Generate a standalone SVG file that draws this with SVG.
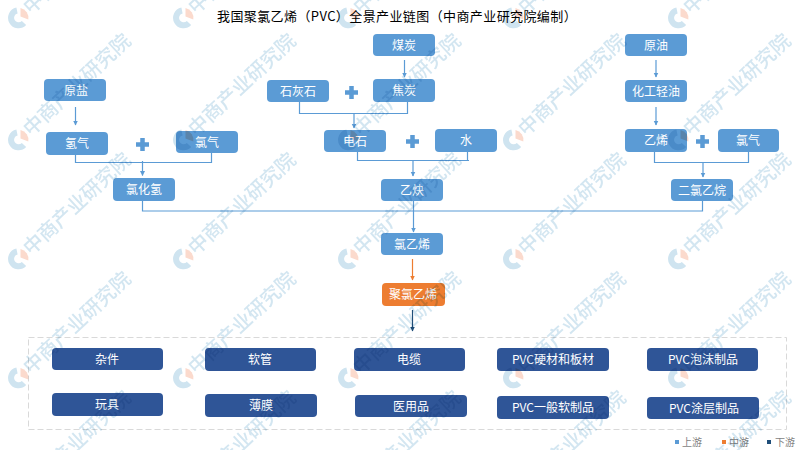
<svg xmlns="http://www.w3.org/2000/svg" width="800" height="450" viewBox="0 0 800 450">
<style>
text{font-family:"Noto Sans CJK SC","Noto Sans",sans-serif}
.t{font-size:12px;fill:#fff;text-anchor:middle}
.a{fill:#5b9bd5}.o{fill:#ed7d31}.d{fill:#2f5597}
.c{fill:none;stroke:#5b9bd5;stroke-width:1.2}
.co{fill:none;stroke:#ed7d31;stroke-width:1.2}
.cd{fill:none;stroke:#1f4e79;stroke-width:1.2}
.p{fill:none;stroke:#5b9bd5;stroke-width:4.5}
.l{font-size:10px;fill:#7f7f7f}
.wt{font-size:19.8px;font-weight:500;fill:#d3e6f1}
</style>
<defs>
<marker id="ma" markerWidth="6" markerHeight="6" refX="4.5" refY="2.5" orient="auto" markerUnits="userSpaceOnUse"><path d="M0,0L5,2.5L0,5z" fill="#5b9bd5"/></marker>
<marker id="mo" markerWidth="6" markerHeight="6" refX="4.5" refY="2.5" orient="auto" markerUnits="userSpaceOnUse"><path d="M0,0L5,2.5L0,5z" fill="#ed7d31"/></marker>
<marker id="md" markerWidth="6" markerHeight="6" refX="4.5" refY="2.5" orient="auto" markerUnits="userSpaceOnUse"><path d="M0,0L5,2.5L0,5z" fill="#1f4e79"/></marker>
<g id="wm">
<path d="M-1,-7.5A7.5,7.5 0 1 0 6,5" fill="none" stroke="#cfe4f0" stroke-width="6"/>
<path d="M2.5,-10A10,10 0 0 1 10.3,1.5L2.5,-1.5z" fill="#fbdacd"/>
<text class="wt" transform="translate(13,-3) rotate(-43)">中商产业研究院</text>
</g>
</defs>
<rect width="800" height="450" fill="#fff"/>
<text x="217" y="21" font-size="13" letter-spacing="0.4" fill="#000">我国聚氯乙烯（PVC）全景产业链图（中商产业研究院编制）</text>
<rect x="28.5" y="337.5" width="758" height="92" fill="none" stroke="#d9d9d9" stroke-dasharray="6 3"/>
<g id="connectors">
<path class="c" marker-end="url(#ma)" d="M75.5,107V125"/>
<path class="c" d="M75.5,155V162.5H211.5V153"/>
<path class="c" marker-end="url(#ma)" d="M142.5,161V175.5"/>
<path class="c" d="M142.5,201V211H702.5V201"/>
<path class="c" marker-end="url(#ma)" d="M404.5,60V77"/>
<path class="c" d="M299.5,102V113.5H407.5V102"/>
<path class="c" marker-end="url(#ma)" d="M354,113.5V128"/>
<path class="c" d="M357.5,152V160.5H469M467.5,160.5V152"/>
<path class="c" marker-end="url(#ma)" d="M413,160.5V176"/>
<path class="c" marker-end="url(#ma)" d="M413.5,201V232"/>
<path class="co" marker-end="url(#mo)" d="M412.5,259V280"/>
<path class="cd" marker-end="url(#md)" d="M412.5,310V331"/>
<path class="c" marker-end="url(#ma)" d="M656,60V77"/>
<path class="c" marker-end="url(#ma)" d="M656,107V125"/>
<path class="c" d="M654.5,152V162.5H748.5V152"/>
<path class="c" marker-end="url(#ma)" d="M703,162V177"/>
<path class="p" d="M136,144.5H149M142.5,138V151"/>
<path class="p" d="M345,92.5H358M351.5,86V99"/>
<path class="p" d="M406,141.5H419M412.5,135V148"/>
<path class="p" d="M696,141.5H709M702.5,135V148"/>
</g>
<g id="n-yuanyan"><rect class="a" x="44" y="79" width="62" height="22" rx="4"/><text class="t" x="76" y="94.5">原盐</text></g>
<g id="n-qingqi"><rect class="a" x="46" y="132" width="62" height="23" rx="4"/><text class="t" x="77" y="148">氢气</text></g>
<g id="n-lvqi1"><rect class="a" x="176" y="131" width="62" height="22" rx="4"/><text class="t" x="207" y="146.5">氯气</text></g>
<g id="n-lvhuaqing"><rect class="a" x="113" y="178" width="62" height="23" rx="4"/><text class="t" x="144" y="194">氯化氢</text></g>
<g id="n-meitan"><rect class="a" x="373" y="34" width="62" height="22" rx="4"/><text class="t" x="404" y="49.5">煤炭</text></g>
<g id="n-jiaotan"><rect class="a" x="373" y="79" width="62" height="23" rx="4"/><text class="t" x="404" y="95">焦炭</text></g>
<g id="n-shihuishi"><rect class="a" x="267" y="80" width="62" height="22" rx="4"/><text class="t" x="298" y="95.5">石灰石</text></g>
<g id="n-dianshi"><rect class="a" x="324" y="130" width="62" height="22" rx="4"/><text class="t" x="355" y="145.5">电石</text></g>
<g id="n-shui"><rect class="a" x="435" y="129" width="62" height="23" rx="4"/><text class="t" x="466" y="145">水</text></g>
<g id="n-yique"><rect class="a" x="381" y="179" width="62" height="22" rx="4"/><text class="t" x="412" y="194.5">乙炔</text></g>
<g id="n-lvyixi"><rect class="a" x="381" y="233" width="62" height="22" rx="4"/><text class="t" x="412" y="248.5">氯乙烯</text></g>
<g id="n-pvc"><rect class="o" x="382" y="283" width="63" height="23" rx="4"/><text class="t" x="413" y="299">聚氯乙烯</text></g>
<g id="n-yuanyou"><rect class="a" x="625" y="34" width="62" height="22" rx="4"/><text class="t" x="656" y="49.5">原油</text></g>
<g id="n-huagong"><rect class="a" x="625" y="80" width="62" height="22" rx="4"/><text class="t" x="656" y="95.5">化工轻油</text></g>
<g id="n-yixi"><rect class="a" x="625" y="129" width="62" height="23" rx="4"/><text class="t" x="656" y="145">乙烯</text></g>
<g id="n-lvqi2"><rect class="a" x="718" y="129" width="61" height="23" rx="4"/><text class="t" x="748" y="145">氯气</text></g>
<g id="n-erlv"><rect class="a" x="671" y="179" width="62" height="22" rx="4"/><text class="t" x="702" y="194.5">二氯乙烷</text></g>
<g id="n-zajian"><rect class="d" x="52" y="348" width="111" height="22" rx="4"/><text class="t" x="107" y="363.5">杂件</text></g>
<g id="n-ruanguan"><rect class="d" x="205" y="348" width="111" height="23" rx="4"/><text class="t" x="260" y="364">软管</text></g>
<g id="n-dianlan"><rect class="d" x="354" y="348" width="111" height="23" rx="4"/><text class="t" x="409" y="364">电缆</text></g>
<g id="n-yingcai"><rect class="d" x="497" y="348" width="112" height="23" rx="4"/><text class="t" x="553" y="364">PVC硬材和板材</text></g>
<g id="n-paomo"><rect class="d" x="647" y="348" width="111" height="23" rx="4"/><text class="t" x="703" y="364">PVC泡沫制品</text></g>
<g id="n-wanju"><rect class="d" x="52" y="393" width="111" height="23" rx="4"/><text class="t" x="107" y="409">玩具</text></g>
<g id="n-bomo"><rect class="d" x="205" y="394" width="112" height="23" rx="4"/><text class="t" x="261" y="410">薄膜</text></g>
<g id="n-yiyong"><rect class="d" x="355" y="395" width="112" height="22" rx="4"/><text class="t" x="411" y="410.5">医用品</text></g>
<g id="n-yiban"><rect class="d" x="497" y="396" width="112" height="23" rx="4"/><text class="t" x="553" y="412">PVC一般软制品</text></g>
<g id="n-tuceng"><rect class="d" x="647" y="397" width="112" height="22" rx="4"/><text class="t" x="704" y="412.5">PVC涂层制品</text></g>
<g id="legend">
<rect x="675" y="440" width="4" height="4" fill="#5b9bd5"/><text class="l" x="682" y="446">上游</text>
<rect x="722" y="440" width="4" height="4" fill="#ed7d31"/><text class="l" x="729" y="446">中游</text>
<rect x="767" y="440" width="4" height="4" fill="#1f4e79"/><text class="l" x="775" y="446">下游</text>
</g>
<g id="watermark" style="mix-blend-mode:multiply">
<use href="#wm" x="18" y="18"/><use href="#wm" x="183" y="18"/><use href="#wm" x="348" y="18"/><use href="#wm" x="513" y="18"/><use href="#wm" x="678" y="18"/>
<use href="#wm" x="18" y="140"/><use href="#wm" x="183" y="140"/><use href="#wm" x="348" y="140"/><use href="#wm" x="513" y="140"/><use href="#wm" x="678" y="140"/>
<use href="#wm" x="18" y="259"/><use href="#wm" x="183" y="259"/><use href="#wm" x="348" y="259"/><use href="#wm" x="513" y="259"/><use href="#wm" x="678" y="259"/>
<use href="#wm" x="18" y="378"/><use href="#wm" x="183" y="378"/><use href="#wm" x="348" y="378"/><use href="#wm" x="513" y="378"/><use href="#wm" x="678" y="378"/>
<use href="#wm" x="18" y="497"/><use href="#wm" x="183" y="497"/><use href="#wm" x="348" y="497"/><use href="#wm" x="513" y="497"/><use href="#wm" x="678" y="497"/>
</g>
</svg>
